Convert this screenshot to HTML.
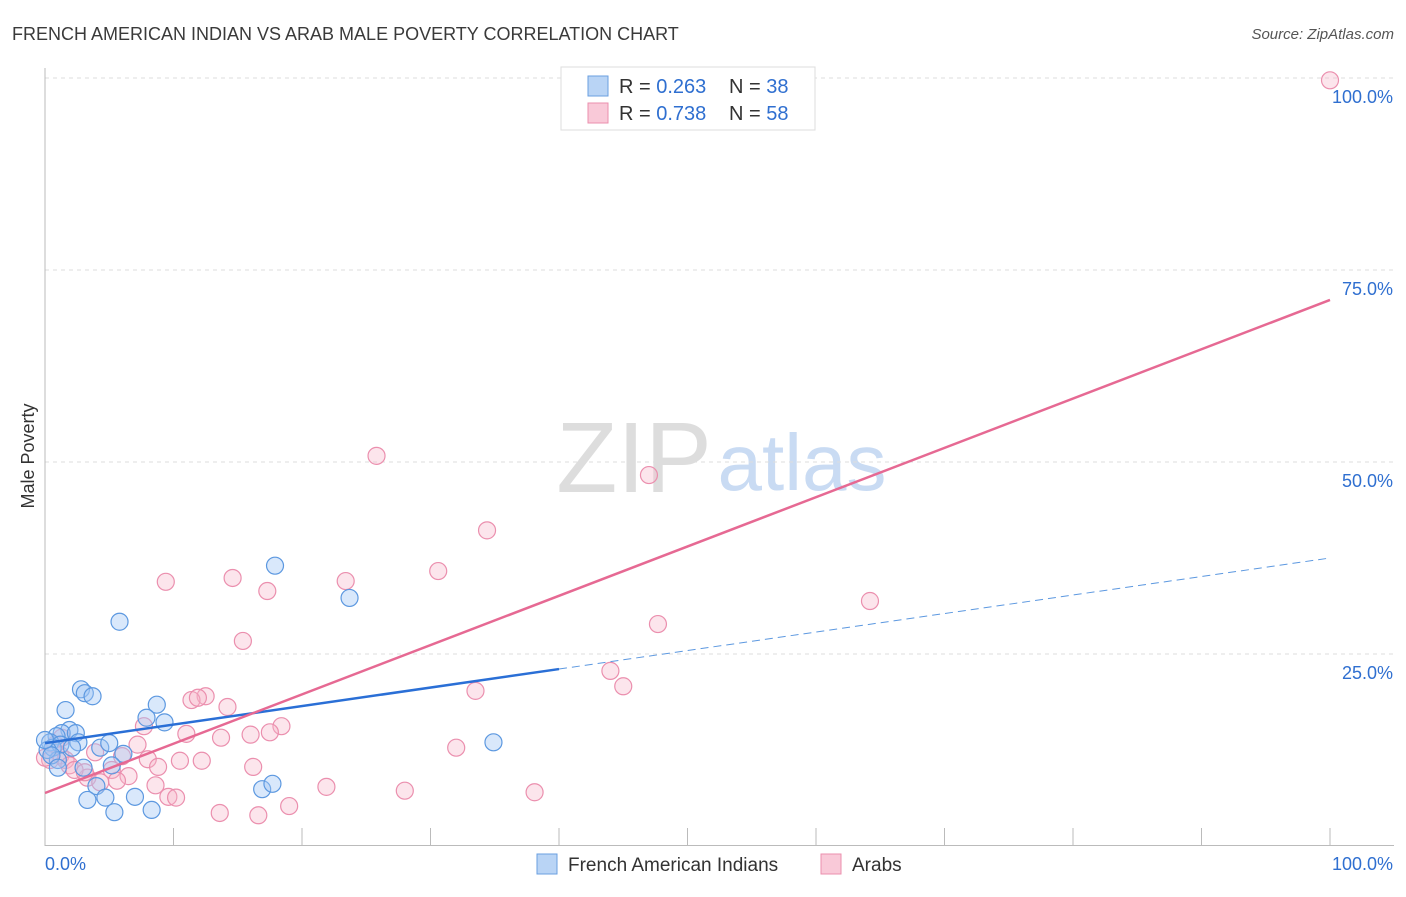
<!DOCTYPE html>
<html><head><meta charset="utf-8"><style>
body{margin:0;background:#fff;font-family:"Liberation Sans",sans-serif}
svg text{font-family:"Liberation Sans",sans-serif}
</style></head><body>
<svg id="c" width="1406" height="892" xmlns="http://www.w3.org/2000/svg">
<text x="12" y="40" font-size="18" fill="#3a3a3a">FRENCH AMERICAN INDIAN VS ARAB MALE POVERTY CORRELATION CHART</text>
<text x="1394" y="39" font-size="15" fill="#555" font-style="italic" text-anchor="end">Source: ZipAtlas.com</text>
<text x="34" y="456" font-size="18" fill="#333" text-anchor="middle" transform="rotate(-90 34 456)">Male Poverty</text>
<g><text x="634" y="492" font-size="100" fill="#ddd" font-family="Liberation Serif" text-anchor="middle">ZIP</text><text x="802" y="490" font-size="80" fill="#c9dbf3" text-anchor="middle">atlas</text></g>
<g id="grid"></g><g id="marks"></g>
<g>
<rect x="561" y="67" width="254" height="63" fill="#fff" stroke="#ddd"/>
<rect x="588" y="76" width="20" height="20" fill="#b9d4f5" stroke="#6a9fe0"/>
<rect x="588" y="103" width="20" height="20" fill="#f9c9d8" stroke="#eb8fae"/>
<text x="619" y="93" font-size="20" fill="#333">R = <tspan fill="#2f6fd0">0.263</tspan></text>
<text x="729" y="93" font-size="20" fill="#333">N = <tspan fill="#2f6fd0">38</tspan></text>
<text x="619" y="120" font-size="20" fill="#333">R = <tspan fill="#2f6fd0">0.738</tspan></text>
<text x="729" y="120" font-size="20" fill="#333">N = <tspan fill="#2f6fd0">58</tspan></text>
</g>
<g>
<rect x="537" y="854" width="20" height="20" fill="#b9d4f5" stroke="#6a9fe0"/>
<text x="568" y="871" font-size="19" fill="#333">French American Indians</text>
<rect x="821" y="854" width="20" height="20" fill="#f9c9d8" stroke="#eb8fae"/>
<text x="852" y="871" font-size="19" fill="#333">Arabs</text>
</g>
</svg>
<script>
const yTicks=[25,50,75,100];
const yTickLabels=["25.0%","50.0%","75.0%","100.0%"];
const xTickLabels=["0.0%","100.0%"];
const blueX=[17.9,23.7,5.8,2.8,3.1,3.7,8.7,7.9,9.3,1.6,1.9,1.3,2.4,2.6,0.9,0.4,0.6,1.2,2.1,4.3,5.0,6.1,1.0,5.2,3.0,4.0,3.3,4.7,7.0,5.4,8.3,16.9,17.7,34.9,0.2,0.5,0.0,1.0];
const blueY=[36.5,32.3,29.2,20.4,19.9,19.5,18.4,16.7,16.1,17.7,15.1,14.7,14.7,13.5,14.3,13.5,12.8,13.2,12.8,12.8,13.4,12.0,11.2,10.5,10.2,7.8,6.0,6.3,6.4,4.4,4.7,7.4,8.1,13.5,12.5,11.8,13.8,10.2];
const pinkX=[100,25.8,47.0,34.4,30.6,9.4,14.6,23.4,17.3,64.2,47.7,15.4,44.0,45.0,33.5,12.5,11.4,11.9,14.2,7.7,11.0,13.7,16.0,18.4,17.5,7.2,3.9,8.0,6.0,10.5,12.2,8.8,16.2,5.2,6.5,3.3,4.3,5.6,8.6,21.9,28.0,38.1,9.6,10.2,19.0,13.6,16.6,32.0,1.2,1.6,1.9,0.4,0.8,2.3,3.1,1.3,0.0];
const pinkY=[99.7,50.8,48.3,41.1,35.8,34.4,34.9,34.5,33.2,31.9,28.9,26.7,22.8,20.8,20.2,19.5,19.0,19.3,18.1,15.6,14.6,14.1,14.5,15.6,14.8,13.2,12.2,11.3,11.7,11.1,11.1,10.3,10.3,9.9,9.1,8.9,8.3,8.5,7.9,7.7,7.2,7.0,6.4,6.3,5.2,4.3,4.0,12.8,11.8,11.2,10.5,11.2,13.2,9.9,9.6,14.1,11.5];
const blueTrend=[13.4,37.5]; const blueSolidEnd=40;
const pinkTrend=[6.9,71.1];
const NS="http://www.w3.org/2000/svg";
const sx=v=>45+v*12.85, sy=v=>846-v*7.68;
function mk(t,a,p){const e=document.createElementNS(NS,t);for(const k in a)e.setAttribute(k,a[k]);p.appendChild(e);return e;}
const g=document.getElementById('grid'), m=document.getElementById('marks');
yTicks.forEach((t,i)=>{
 const l=mk('line',{x1:45,x2:1394,y1:sy(t),y2:sy(t),stroke:'#ddd','stroke-dasharray':'4,4'},g);
 
 
 const tx=mk('text',{x:1393,y:sy(t)+25,'font-size':18,fill:'#2f6fd0','text-anchor':'end'},g);tx.textContent=yTickLabels[i];
 
 
});
mk('line',{x1:45,x2:45,y1:68,y2:846,stroke:'#bbb'},g);
mk('line',{x1:45,x2:1394,y1:845.5,y2:845.5,stroke:'#bbb'},g);
for(let i=0;i<=10;i++){const t=mk('line',{x1:sx(i*10),x2:sx(i*10),y1:828,y2:846,stroke:'#bbb'},g);
 
 }
[[0,'start',45],[100,'end',1393]].forEach((d,i)=>{const t=mk('text',{x:d[2],y:870,'font-size':18,fill:'#2f6fd0','text-anchor':d[1]},g);t.textContent=xTickLabels[i];
 
 });
pinkX.forEach((x,i)=>{const c=mk('circle',{cx:sx(x),cy:sy(pinkY[i]),r:8.5,fill:'rgba(246,180,200,0.35)',stroke:'#eb8fae','stroke-width':1.2},m);
 
 });
blueX.forEach((x,i)=>{const c=mk('circle',{cx:sx(x),cy:sy(blueY[i]),r:8.5,fill:'rgba(160,198,245,0.4)',stroke:'#5c98e0','stroke-width':1.2},m);
 
 });
const bl=(x)=>blueTrend[0]+(blueTrend[1]-blueTrend[0])*x/100;
let e=mk('line',{x1:sx(0),y1:sy(bl(0)),x2:sx(blueSolidEnd),y2:sy(bl(blueSolidEnd)),stroke:'#2a6fd6','stroke-width':2.5},m);


e=mk('line',{x1:sx(blueSolidEnd),y1:sy(bl(blueSolidEnd)),x2:sx(100),y2:sy(bl(100)),stroke:'#5c98e0','stroke-width':1,'stroke-dasharray':'8,5'},m);


e=mk('line',{x1:sx(0),y1:sy(pinkTrend[0]),x2:sx(100),y2:sy(pinkTrend[1]),stroke:'#e66993','stroke-width':2.5},m);


</script>
</body></html>
